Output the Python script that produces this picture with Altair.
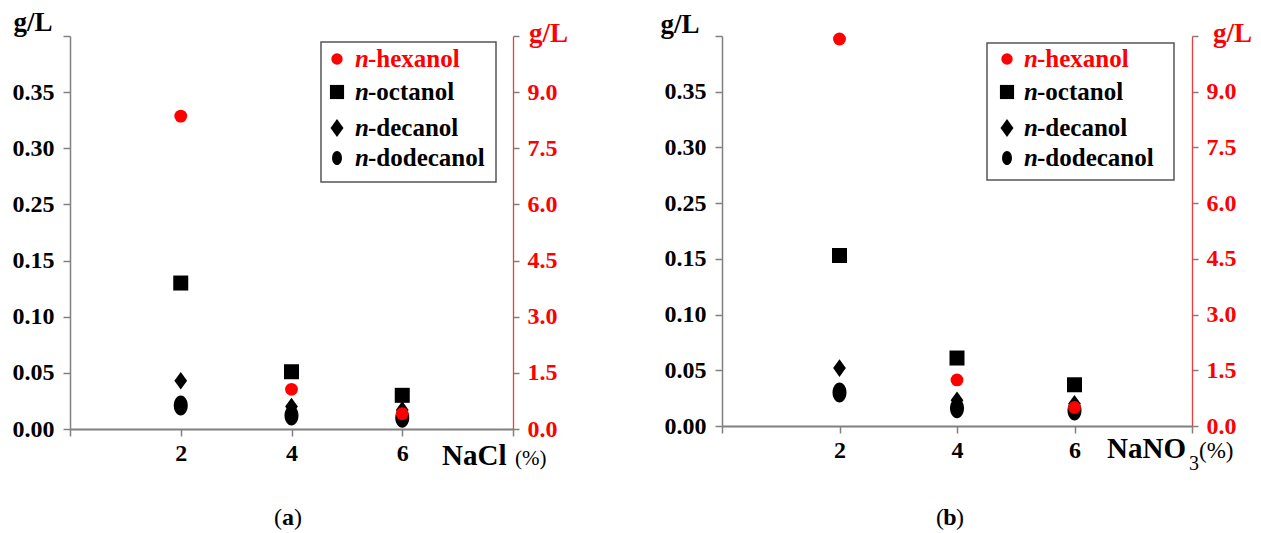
import altair as alt
import pandas as pd

# ---------------- data ----------------
salt = [2, 4, 6]
compounds = ["n-octanol", "n-decanol", "n-dodecanol"]

# (a) NaCl
a_hexanol = [8.36, 1.06, 0.41]        # right axis
a_octanol = [0.130, 0.051, 0.030]
a_decanol = [0.043, 0.020, 0.017]
a_dodecanol = [0.021, 0.012, 0.010]

# (b) NaNO3
b_hexanol = [10.42, 1.24, 0.50]       # right axis
b_octanol = [0.153, 0.061, 0.037]
b_decanol = [0.052, 0.023, 0.020]
b_dodecanol = [0.030, 0.016, 0.014]

left_ticks = [0, 0.05, 0.10, 0.15, 0.20, 0.25, 0.30, 0.35]
left_labels = ["0.00", "0.05", "0.10", "0.15", "0.25", "0.30", "0.35", ""]
right_ticks = [0, 1.5, 3.0, 4.5, 6.0, 7.5, 9.0, 10.5]
right_labels = ["0.0", "1.5", "3.0", "4.5", "6.0", "7.5", "9.0", ""]
x_ticks = [0, 2, 4, 6, 8]
x_labels = ["", "2", "4", "6", ""]

legend_names = ["hexanol", "octanol", "decanol", "dodecanol"]

FONT = "Liberation Serif"
RED = "#ff0000"
GREY = "#808080"

DIAMOND = "M0,-1L0.72,0L0,1L-0.72,0Z"
ELLIPSE = ("M0,-1C0.387,-1,0.7,-0.552,0.7,0C0.7,0.552,0.387,1,0,1"
           "C-0.387,1,-0.7,0.552,-0.7,0C-0.7,-0.552,-0.387,-1,0,-1Z")
shapes = ["square", DIAMOND, ELLIPSE]
sizes = [225, 400, 256]


def js_list(items):
    return "[" + ",".join("'" + s + "'" for s in items) + "]"


def txt(s, x, y, size=24, weight="bold", style="normal", color="black",
        align="left", baseline="alphabetic"):
    return alt.Chart(alt.Data(values=[{}])).mark_text(
        text=s, font=FONT, fontSize=size, fontWeight=weight, fontStyle=style,
        color=color, align=align, baseline=baseline
    ).encode(x=alt.value(x), y=alt.value(y))


def box(x, x2, y, y2, **kw):
    return alt.Chart(alt.Data(values=[{}])).mark_rect(**kw).encode(
        x=alt.value(x), x2=alt.value(x2), y=alt.value(y), y2=alt.value(y2))


def sym(x, y, shape, size, color):
    return alt.Chart(alt.Data(values=[{}])).mark_point(
        shape=shape, size=size, filled=True, color=color, opacity=1
    ).encode(x=alt.value(x), y=alt.value(y))


x_axis = alt.Axis(values=x_ticks, labelExpr=js_list(x_labels) + "[round(datum.value/2)]",
                  title=None, grid=False, domainColor=GREY, domainWidth=2,
                  tickColor=GREY, tickSize=7, tickWidth=1.5,
                  labelFont=FONT, labelFontSize=24, labelFontWeight="bold",
                  labelColor="black", labelPadding=5)


def panel(hexv, octv, decv, dodv, w, h, leg, gl_left, gl_right, xtitle, caption, anchor):
    rows = []
    for name, vals in zip(compounds, [octv, decv, dodv]):
        for s, v in zip(salt, vals):
            rows.append({"salt": s, "value": v, "compound": name})
    black = pd.DataFrame(rows)
    red = pd.DataFrame({"salt": salt, "value": hexv})

    xenc = alt.X("salt:Q", scale=alt.Scale(domain=[0, 8], nice=False), axis=x_axis)

    black_layer = alt.Chart(black).mark_point(filled=True, color="black", opacity=1).encode(
        x=xenc,
        y=alt.Y("value:Q", scale=alt.Scale(domain=[0, 0.35], nice=False),
                axis=alt.Axis(orient="left", values=left_ticks,
                              labelExpr=js_list(left_labels) + "[round(datum.value/0.05)]",
                              title=None, grid=False, domainColor=GREY, domainWidth=1.5,
                              tickColor=GREY, tickSize=7, tickWidth=1.5,
                              labelFont=FONT, labelFontSize=24, labelFontWeight="bold",
                              labelColor="black", labelPadding=9)),
        shape=alt.Shape("compound:N", scale=alt.Scale(domain=compounds, range=shapes), legend=None),
        size=alt.Size("compound:N", scale=alt.Scale(domain=compounds, range=sizes), legend=None),
    )

    red_layer = alt.Chart(red).mark_point(filled=True, color=RED, shape="circle",
                                          size=165, opacity=1).encode(
        x=xenc,
        y=alt.Y("value:Q", scale=alt.Scale(domain=[0, 10.5], nice=False),
                axis=alt.Axis(orient="right", values=right_ticks,
                              labelExpr=js_list(right_labels) + "[round(datum.value/1.5)]",
                              title=None, grid=False, domainColor="#f03c3c", domainWidth=1.3,
                              tickColor=GREY, tickSize=6, tickWidth=1.5,
                              labelFont=FONT, labelFontSize=24, labelFontWeight="bold",
                              labelColor=RED, labelPadding=8)),
    )

    layers = [box(*anchor, fill="white", opacity=0)]
    # legend
    bx, bx2, by, by2, sx, tx, ys = leg
    layers.append(box(bx, bx2, by, by2, fill="white", fillOpacity=0,
                      stroke="#555555", strokeWidth=1.5))
    leg_shapes = ["circle", "square", DIAMOND, ELLIPSE]
    leg_sizes = [130, 200, 324, 200]
    leg_colors = [RED, "black", "black", "black"]
    for name, shp, sz, col, yy in zip(legend_names, leg_shapes, leg_sizes, leg_colors, ys):
        layers.append(sym(sx, yy, shp, sz, col))
        layers.append(txt("n", tx, yy, size=25, style="italic", color=col, baseline="middle"))
        layers.append(txt("-" + name, tx + 13, yy, size=25, color=col, baseline="middle"))
    # axis unit labels
    layers.append(txt("g/L", gl_left[0], gl_left[1], size=27, align="center"))
    layers.append(txt("g/L", gl_right[0], gl_right[1], size=27, color=RED))
    # x title parts
    for part in xtitle:
        layers.append(txt(*part))
    # caption
    cx, cy, letter = caption
    layers.append(txt("(", cx - 6, cy, size=24, weight="normal", align="right"))
    layers.append(txt(letter, cx, cy, size=24, align="center"))
    layers.append(txt(")", cx + 6, cy, size=24, weight="normal", align="left"))

    return alt.layer(black_layer, red_layer, *layers).resolve_scale(
        y="independent").properties(width=w, height=h)


pa = panel(a_hexanol, a_octanol, a_decanol, a_dodecanol, 443, 393,
           (251, 426, 6, 146, 267, 285, [23, 56, 92, 122]),
           (-37, -5), (459, 6),
           [("NaCl", 372, 429, 29), ("(%)", 445, 429, 21, "normal")],
           (218, 489, "a"),
           (-70, 0, -36, 0))

pb = panel(b_hexanol, b_octanol, b_decanol, b_dodecanol, 470, 390,
           (265, 452, 7, 144, 285, 302, [23, 56, 92, 122]),
           (-42, -3), (491, 6),
           [("NaNO", 385, 422, 29), ("3", 467, 434, 20, "normal"), ("(%)", 477, 422, 23, "normal")],
           (228, 489, "b"),
           (470, 539, 390, 497))

chart = alt.hconcat(pa, pb, spacing=209, bounds="flush").properties(
    padding=0, background="white"
).configure_view(stroke=None)

chart.save("out.html", embed_options={"renderer": "svg", "actions": False})
